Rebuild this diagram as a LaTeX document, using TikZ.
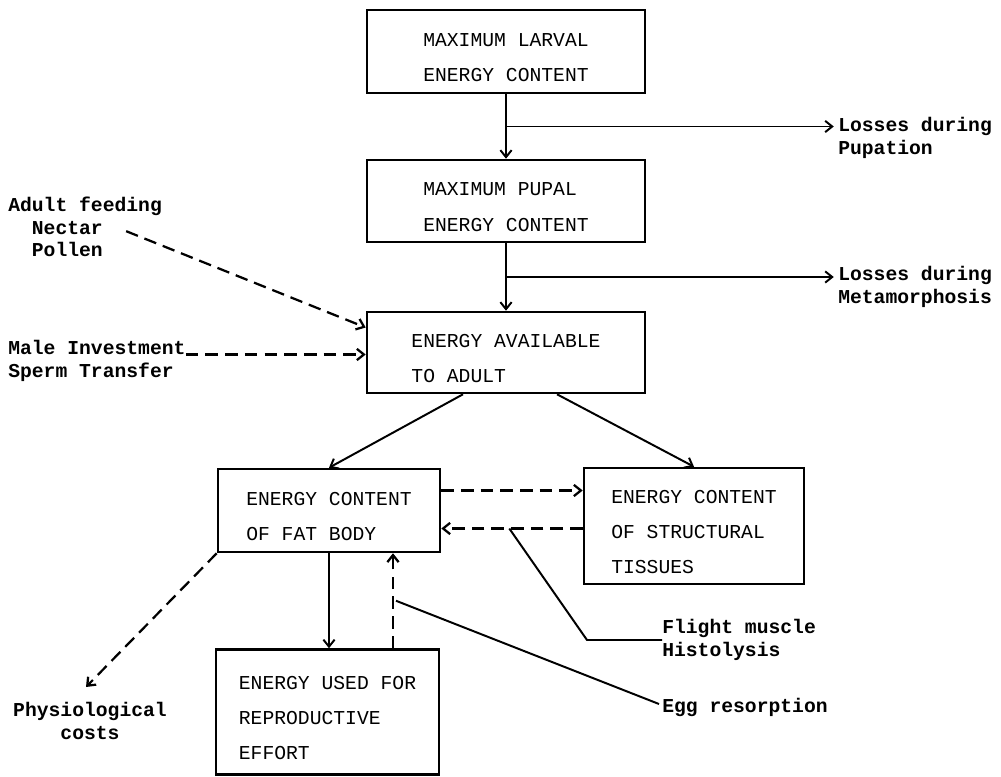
\documentclass[tikz,border=0pt]{standalone}
\usepackage{fontspec}
\setmonofont{Liberation Mono}
\usetikzlibrary{arrows.meta,calc}
\newcommand{\topgap}{\rule{0pt}{18pt}}

\begin{document}
\begin{tikzpicture}[x=0.025cm, y=-0.025cm, >={Straight Barb[length=5pt,width=8pt]},
		stage/.style={draw, line width=1.8pt, align=left, inner sep=0pt, font=\ttfamily\fontsize{14}{25}\selectfont},
		note/.style={inner sep=0pt, align=left, font=\ttfamily\bfseries\fontsize{14}{16}\selectfont},
		flow/.style={line width=1.4pt},
		aux/.style={line width=1.6pt, dash pattern=on 9pt off 5pt}]
			\useasboundingbox (0,0) rectangle (1001,777);

			\node (larval) [stage, minimum width=6.95cm, minimum height=2.075cm] at (506,51.5) {\topgap MAXIMUM LARVAL\\ENERGY CONTENT};
			\node (pupal) [stage, minimum width=6.95cm, minimum height=2.05cm] at (506,201) {\topgap MAXIMUM PUPAL\\ENERGY CONTENT};
			\node (adult) [stage, minimum width=6.95cm, minimum height=2.025cm] at (506,352.5) {\topgap ENERGY AVAILABLE\\TO ADULT};
			\node (fatbody) [stage, minimum width=5.55cm, minimum height=2.075cm] at (329,510.5) {\topgap ENERGY CONTENT\\OF FAT BODY};
			\node (struct) [stage, minimum width=5.5cm, minimum height=2.9cm] at (694,526) {\topgap ENERGY CONTENT\\OF STRUCTURAL\\TISSUES};
			\node (repro) [stage, minimum width=5.575cm, minimum height=3.125cm] at (327.5,712) {\topgap ENERGY USED FOR\\REPRODUCTIVE\\EFFORT};

			\node (lossP) [note, anchor=north west] at (838,117) {Losses during\\Pupation};
			\node (lossM) [note, anchor=north west] at (838,266) {Losses during\\Metamorphosis};
			\node (feed) [note, anchor=north west] at (8,197) {Adult feeding\\\phantom{Ad}Nectar\\\phantom{Ad}Pollen};
			\node (male) [note, anchor=north west] at (8,340) {Male Investment\\Sperm Transfer};
			\node (flight) [note, anchor=west] at (662,640) {Flight muscle\\Histolysis};
			\node (egg) [note, anchor=west] at (662,707) {Egg resorption};
			\node (phys) [note, align=center, anchor=north] at (90,702) {Physiological\\costs};

			\draw[flow, ->] (larval.south) -- (pupal.north);
			\coordinate (pupsplit) at ($(larval.south)!.5!(pupal.north)$);
			\draw[flow, ->, shorten >=3pt] (pupsplit) -- (pupsplit -| lossP.west);

			\draw[flow, ->] (pupal.south) -- (adult.north);
			\coordinate (metsplit) at ($(pupal.south)!.5!(adult.north)$);
			\draw[flow, ->, shorten >=3pt] (metsplit) -- (metsplit -| lossM.west);

			\draw[aux, ->] ($(feed.east)+(-36,4)$) -- ($(adult.west)+(0,-25)$);
			\coordinate (malein) at ($(adult.west)+(0,2)$);
			\draw[aux, ->] (male.east |- malein) -- (malein);

			\draw[flow, ->] ($(adult.south)+(-43,0)$) -- (fatbody.north);
			\draw[flow, ->] ($(adult.south)+(51,0)$) -- (struct.north);

			\coordinate (toS) at ($(fatbody.east)+(0,-20)$);
			\draw[aux, ->] (toS) -- (toS -| struct.west);
			\coordinate (toF) at ($(fatbody.east)+(0,18)$);
			\draw[aux, ->] (toF -| struct.west) -- (toF);

			\coordinate (hist) at ($(toF)+(68,0)$);
			\draw[flow] (hist) -- ($(flight.west)+(-75,0)$) -- (flight.west);

			\draw[flow, ->] (fatbody.south) -- (fatbody.south |- repro.north);
			\coordinate (resorb) at ($(repro.north)+(65.5,0)$);
			\draw[aux, ->] (resorb) -- (resorb |- fatbody.south);
			\coordinate (eggpt) at ($(resorb)!.5!(resorb |- fatbody.south)$);
			\draw[flow] ($(eggpt)+(3,0)$) -- ($(egg.west)+(-3,-3)$);

			\draw[aux, ->] (fatbody.south west) -- ($(phys.north)+(-4,-15)$);
		\end{tikzpicture}
\end{document}
